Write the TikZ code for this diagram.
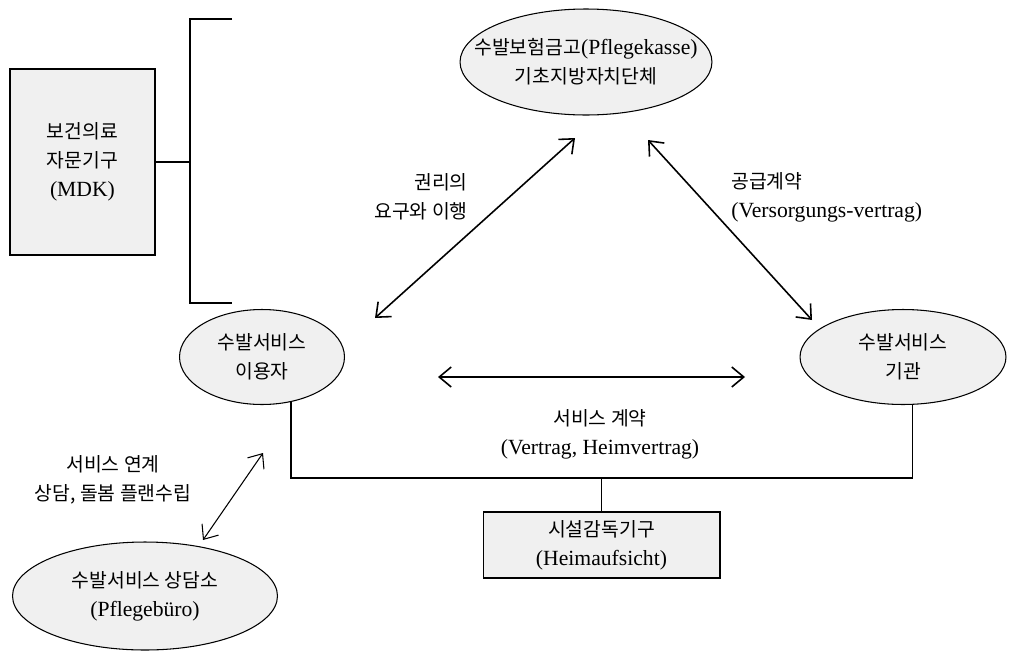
\documentclass[tikz,border=0pt]{standalone}
\usepackage{fontspec}
\setmainfont{Liberation Serif}[Scale=1.12]
\newfontfamily\kr{Noto Sans CJK KR}
\usetikzlibrary{shapes.geometric,arrows.meta}

\begin{document}
\begin{tikzpicture}[x=0.02cm,y=-0.02cm,>={Straight Barb[length=2.4mm,width=4mm]},
  oval/.style={ellipse,draw,line width=0.6pt,fill=black!6,inner sep=0pt,align=center,font=\fontsize{11}{16.5}\selectfont},
  box/.style={rectangle,draw,line width=0.6pt,fill=black!6,inner sep=0pt,align=center,font=\fontsize{11}{16.5}\selectfont},
  lbl/.style={inner sep=0pt,font=\fontsize{11}{16.5}\selectfont},
  dbl/.style={<->,line width=0.9pt},
  link/.style={line width=0.8pt}]
\useasboundingbox (0,0) rectangle (1014,656);
\node[box,minimum width=2.9cm,minimum height=3.72cm] (mdk) at (82.5,162) {{\kr 보건의료}\\{\kr 자문기구}\\(MDK)};
\node[oval,inner xsep=-0.5cm,minimum width=5.04cm,minimum height=2.12cm] (fund) at (586,62) {{\kr 수발보험금고}(Pflegekasse)\\{\kr 기초지방자치단체}};
\node[oval,minimum width=3.3cm,minimum height=1.9cm] (user) at (262,357) {{\kr 수발서비스}\\{\kr 이용자}};
\node[oval,minimum width=4.12cm,minimum height=1.9cm] (prov) at (903,357) {{\kr 수발서비스}\\{\kr 기관}};
\node[oval,minimum width=5.3cm,minimum height=2.16cm] (office) at (145,596) {{\kr 수발서비스 상담소}\\(Pflegebüro)};
\node[box,minimum width=4.74cm,minimum height=1.32cm] (super) at (601.5,545) {{\kr 시설감독기구}\\(Heimaufsicht)};
\coordinate (brk) at (190,162);
\coordinate (bus) at (601.5,478);
\draw[link] (mdk) -- (brk);
\draw[link] (232,19) -- (190,19) -- (190,303) -- (232,303);
\draw[dbl] ([shift={(113,-39)}]user.center) -- ([shift={(-11,76)}]fund.center);
\draw[dbl] ([shift={(62,78)}]fund.center) -- ([shift={(-91,-37)}]prov.center);
\draw[dbl] ([shift={(176,20)}]user.center) -- ([shift={(-158,20)}]prov.center);
\draw[<->,line width=0.6pt] ([shift={(1,96)}]user.center) -- ([shift={(58,-56)}]office.center);
\draw[link] (user.-57.5) |- (bus) -| (prov.-79);
\draw[link] (bus) -- (super);
\node[lbl,align=right,anchor=east] (right) at (468,197) {{\kr 권리의}\\{\kr 요구와 이행}};
\node[lbl,align=left,anchor=west] (supply) at (731,197) {{\kr 공급계약}\\(Versorgungs-vertrag)};
\node[lbl,align=center] (contract) at (600,434) {{\kr 서비스 계약}\\(Vertrag, Heimvertrag)};
\node[lbl,align=center] (link) at (113,480) {{\kr 서비스 연계}\\{\kr 상담, 돌봄 플랜수립}};
\end{tikzpicture}
\end{document}
